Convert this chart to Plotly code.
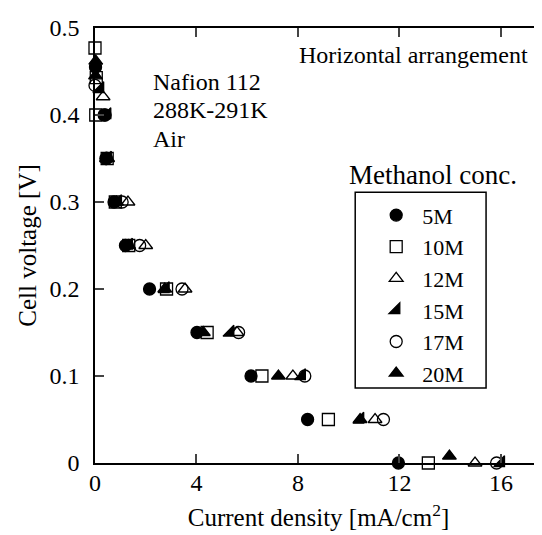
import plotly.graph_objects as go

names = ["5M", "10M", "12M", "15M", "17M", "20M"]

x_5M = [0.02, 0.36, 0.43, 0.75, 1.2, 2.15, 4.02, 6.15, 8.38, 11.96]
y_5M = [0.455, 0.40, 0.35, 0.30, 0.25, 0.20, 0.15, 0.10, 0.05, 0.0]

x_10M = [0.0, 0.05, 0.03, 0.48, 0.8, 1.33, 2.82, 4.42, 6.58, 9.2, 13.14]
y_10M = [0.477, 0.443, 0.40, 0.35, 0.30, 0.25, 0.20, 0.15, 0.10, 0.05, 0.0]

x_12M = [0.32, 0.5, 1.3, 2.0, 3.55, 5.6, 7.8, 11.04, 14.98]
y_12M = [0.421, 0.35, 0.30, 0.25, 0.20, 0.15, 0.10, 0.05, 0.0]

x_15M = [0.2, 0.48, 0.5, 0.9, 1.33, 2.78, 5.33, 8.15, 10.45, 16.0]
y_15M = [0.43, 0.40, 0.35, 0.30, 0.25, 0.20, 0.15, 0.10, 0.05, 0.0]

x_17M = [0.0, 0.4, 0.45, 1.07, 1.76, 3.43, 5.66, 8.27, 11.37, 15.83]
y_17M = [0.434, 0.40, 0.35, 0.30, 0.25, 0.20, 0.15, 0.10, 0.05, 0.0]

x_20M = [0.03, 0.02, 0.45, 0.85, 1.33, 2.75, 4.27, 7.23, 10.45, 13.97]
y_20M = [0.462, 0.445, 0.35, 0.30, 0.25, 0.20, 0.15, 0.10, 0.05, 0.008]

x_ticks = [0, 4, 8, 12, 16]
y_ticks = [0, 0.1, 0.2, 0.3, 0.4, 0.5]
y_tick_labels = ["0", "0.1", "0.2", "0.3", "0.4", "0.5"]

xs = [x_5M, x_10M, x_12M, x_15M, x_17M, x_20M]
ys = [y_5M, y_10M, y_12M, y_15M, y_17M, y_20M]
symbols = ["circle", "square-open", "triangle-up-open", "triangle-se", "circle-open", "triangle-up"]

FONT = "Liberation Serif, Times New Roman, serif"

# plot area in window pixels (page body has an 8px margin)
L, R, T, B = 94.5, 542.0, 27.5, 463.0
W, H = R - L, B - T


def px(x):
    return (x - L) / W


def py(y):
    return (B - y) / H


fig = go.Figure()
for n, xv, yv, s in zip(names, xs, ys, symbols):
    fig.add_trace(go.Scatter(
        x=xv, y=yv, name=n, mode="markers", cliponaxis=False,
        marker=dict(symbol=s, size=12, color="black", line=dict(color="black", width=1.3)),
    ))

fig.update_layout(
    width=534, height=527,
    margin=dict(l=L - 8, r=0, t=T - 8, b=527 - (B - 8)),
    paper_bgcolor="white", plot_bgcolor="white",
    font=dict(family=FONT, size=24, color="black"),
    showlegend=True,
    legend=dict(
        x=px(370), y=py(194), xanchor="left", yanchor="top",
        bgcolor="rgba(0,0,0,0)", borderwidth=0,
        font=dict(family=FONT, size=22, color="black"),
        itemwidth=42,
    ),
    xaxis=dict(
        range=[0, 17.62], tickvals=x_ticks, ticks="inside", ticklen=9, tickwidth=1.5,
        showline=True, linewidth=1.5, linecolor="black", mirror="ticks", showgrid=False,
        zeroline=False, tickfont=dict(size=24), ticklabelstandoff=-3,
        title=dict(text="Current density [mA/cm<sup>2</sup>]", font=dict(size=25), standoff=14),
    ),
    yaxis=dict(
        range=[0, 0.5], tickvals=y_ticks, ticktext=y_tick_labels, ticks="inside", ticklen=9,
        tickwidth=1.5, showline=True, linewidth=1.5, linecolor="black", mirror=False,
        showgrid=False, zeroline=False, tickfont=dict(size=24), ticklabelstandoff=9,
        title=dict(text="Cell voltage [V]", font=dict(size=25), standoff=6),
    ),
    shapes=[dict(type="rect", xref="paper", yref="paper",
                 x0=px(355), x1=px(486), y0=py(388), y1=py(192),
                 line=dict(color="black", width=1.5))],
    annotations=[
        dict(text="Horizontal arrangement", x=px(530), y=py(55),
             xref="paper", yref="paper", xanchor="right", yanchor="middle", showarrow=False),
        dict(text="Nafion 112", x=px(151), y=py(82),
             xref="paper", yref="paper", xanchor="left", yanchor="middle", showarrow=False),
        dict(text="288K-291K", x=px(151), y=py(110),
             xref="paper", yref="paper", xanchor="left", yanchor="middle", showarrow=False),
        dict(text="Air", x=px(151), y=py(138.5),
             xref="paper", yref="paper", xanchor="left", yanchor="middle", showarrow=False),
        dict(text="Methanol conc.", x=px(347), y=py(175),
             xref="paper", yref="paper", xanchor="left", yanchor="middle", showarrow=False,
             font=dict(size=27)),
    ],
)

fig.write_html("out.html")
